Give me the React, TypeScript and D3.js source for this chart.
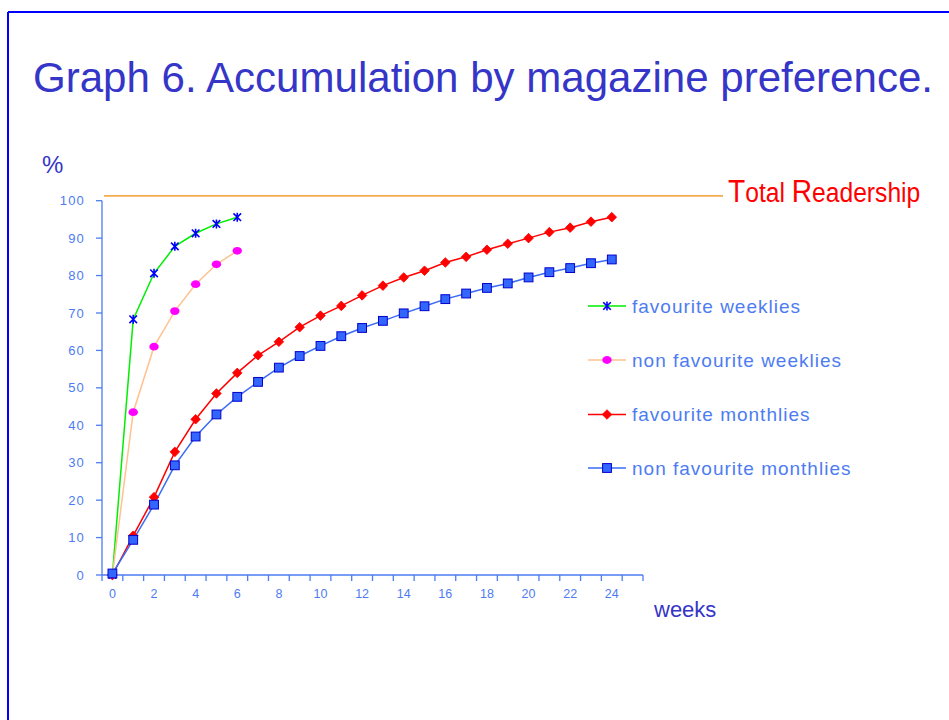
import React from "react";
import * as d3 from "d3";

const weekTicks = [0, 2, 4, 6, 8, 10, 12, 14, 16, 18, 20, 22, 24];
const yTicks = [0, 10, 20, 30, 40, 50, 60, 70, 80, 90, 100];
const weeksShort = [0, 1, 2, 3, 4, 5, 6];
const weeksLong = [0, 1, 2, 3, 4, 5, 6, 7, 8, 9, 10, 11, 12, 13, 14, 15, 16, 17, 18, 19, 20, 21, 22, 23, 24];
const favWeeklies = [0, 68.3, 80.6, 87.8, 91.3, 93.8, 95.6];
const nonFavWeeklies = [0, 43.5, 61.0, 70.5, 77.7, 83.0, 86.6];
const favMonthlies = [0, 10.5, 20.8, 32.9, 41.6, 48.5, 54.0, 58.7, 62.3, 66.2, 69.3, 71.9, 74.7, 77.3, 79.5, 81.3, 83.5, 85.0, 86.9, 88.5, 90.0, 91.6, 92.8, 94.4, 95.6];
const nonFavMonthlies = [0.4, 9.4, 18.8, 29.3, 37.0, 42.9, 47.6, 51.6, 55.4, 58.5, 61.2, 63.8, 66.0, 67.9, 69.9, 71.8, 73.7, 75.2, 76.7, 77.9, 79.5, 80.9, 82.0, 83.3, 84.3];
const totalReadership = 101.3;
const seriesNames = ["favourite weeklies", "non favourite weeklies", "favourite monthlies", "non favourite monthlies"];

const FONT = "'Liberation Sans', Arial, Helvetica, sans-serif";
const AXIS = "#4D7CF2";
const DARK = "#3535C8";

function Marker({ kind, x, y }: { kind: string; x: number; y: number }) {
  if (kind === "star")
    return (
      <path
        d={`M${x - 3.8},${y - 3.8}L${x + 3.8},${y + 3.8}M${x - 3.8},${y + 3.8}L${x + 3.8},${y - 3.8}M${x},${y - 4.5}L${x},${y + 4.5}`}
        stroke="#0000FF"
        strokeWidth={1.6}
        fill="none"
      />
    );
  if (kind === "circle") return <ellipse cx={x} cy={y} rx={4.7} ry={3.9} fill="#FF00FF" />;
  if (kind === "diamond")
    return <path d={`M${x},${y - 4.8}L${x + 4.8},${y}L${x},${y + 4.8}L${x - 4.8},${y}Z`} fill="#FF0000" stroke="#FF0000" strokeWidth={0.8} strokeLinejoin="round" />;
  return <rect x={x - 4.4} y={y - 4.4} width={8.8} height={8.8} fill="#3366FF" stroke="#0000CC" strokeWidth={1} />;
}

export default function App() {
  const x = d3.scaleLinear().domain([-0.5, 25.5]).range([102, 643]);
  const y = d3.scaleLinear().domain([0, 100]).range([575, 200.7]);
  const line = d3
    .line<[number, number]>()
    .x((d) => x(d[0]))
    .y((d) => y(d[1]));

  const series = [
    { name: seriesNames[0], weeks: weeksShort, values: favWeeklies, color: "#00EE00", marker: "star" },
    { name: seriesNames[1], weeks: weeksShort, values: nonFavWeeklies, color: "#FFC28E", marker: "circle" },
    { name: seriesNames[2], weeks: weeksLong, values: favMonthlies, color: "#FF0000", marker: "diamond" },
    { name: seriesNames[3], weeks: weeksLong, values: nonFavMonthlies, color: "#3A6CF4", marker: "square" },
  ];

  const boundaries = d3.range(-0.5, 26, 1);
  const legendY = [306, 360, 414.5, 468];

  return (
    <svg
      width={949}
      height={720}
      style={{ position: "fixed", left: 0, top: 0, background: "#fff" }}
      fontFamily={FONT}
    >
      <rect x={0} y={0} width={949} height={720} fill="#fff" />
      {/* frame */}
      <line x1={8} y1={12} x2={949} y2={12} stroke="#0000FF" strokeWidth={2} />
      <line x1={8} y1={12} x2={8} y2={720} stroke="#0000FF" strokeWidth={2} />

      {/* title */}
      <text x={33} y={92.3} fontSize={42.5} fill={DARK} textLength={900} lengthAdjust="spacingAndGlyphs">
        Graph 6. Accumulation by magazine preference.
      </text>

      {/* % label */}
      <text x={42} y={172.5} fontSize={24} fill={DARK}>
        %
      </text>

      {/* total readership */}
      <line x1={104} x2={723} y1={y(totalReadership)} y2={y(totalReadership)} stroke="#F5AA4C" strokeWidth={1.6} />
      <g transform={`translate(728,201.7) scale(0.88,1)`}>
        <text x={0} y={0} fill="#FF0000">
          <tspan fontSize={32}>T</tspan>
          <tspan fontSize={28}>otal </tspan>
          <tspan fontSize={32}>R</tspan>
          <tspan fontSize={28}>eadership</tspan>
        </text>
      </g>

      {/* y axis */}
      <line x1={x(-0.5)} x2={x(-0.5)} y1={y(0)} y2={y(100)} stroke={AXIS} strokeWidth={1.3} />
      {yTicks.map((t) => (
        <g key={`y${t}`}>
          <line x1={x(-0.5) - 6} x2={x(-0.5)} y1={y(t)} y2={y(t)} stroke={AXIS} strokeWidth={1.3} />
          <text x={85} y={y(t) + 4.6} fontSize={13} fill={AXIS} textAnchor="end" letterSpacing={1.2}>
            {t}
          </text>
        </g>
      ))}

      {/* x axis */}
      <line x1={x(-0.5)} x2={x(25.5)} y1={y(0)} y2={y(0)} stroke={AXIS} strokeWidth={1.3} />
      {boundaries.map((b) => (
        <line key={`b${b}`} x1={x(b)} x2={x(b)} y1={y(0)} y2={y(0) + 6} stroke={AXIS} strokeWidth={1.3} />
      ))}
      {weekTicks.map((t) => (
        <text key={`x${t}`} x={x(t)} y={597.5} fontSize={12.5} fill={AXIS} textAnchor="middle">
          {t}
        </text>
      ))}
      <text x={654} y={617} fontSize={22} fill={DARK}>
        weeks
      </text>

      {/* series */}
      {series.map((s) => (
        <path
          key={`l${s.name}`}
          d={line(s.weeks.map((w, i) => [w, s.values[i]] as [number, number])) || ""}
          fill="none"
          stroke={s.color}
          strokeWidth={1.5}
        />
      ))}
      {series.map((s) => (
        <g key={`m${s.name}`}>
          {s.weeks.map((w, i) => (
            <Marker key={i} kind={s.marker} x={x(w)} y={y(s.values[i])} />
          ))}
        </g>
      ))}

      {/* legend */}
      {series.map((s, i) => (
        <g key={`lg${s.name}`}>
          <line x1={588} x2={626} y1={legendY[i]} y2={legendY[i]} stroke={s.color} strokeWidth={1.5} />
          <Marker kind={s.marker} x={607} y={legendY[i]} />
          <text x={632} y={legendY[i] + 6.6} fontSize={19} fill={AXIS} letterSpacing={1}>
            {s.name}
          </text>
        </g>
      ))}
    </svg>
  );
}
